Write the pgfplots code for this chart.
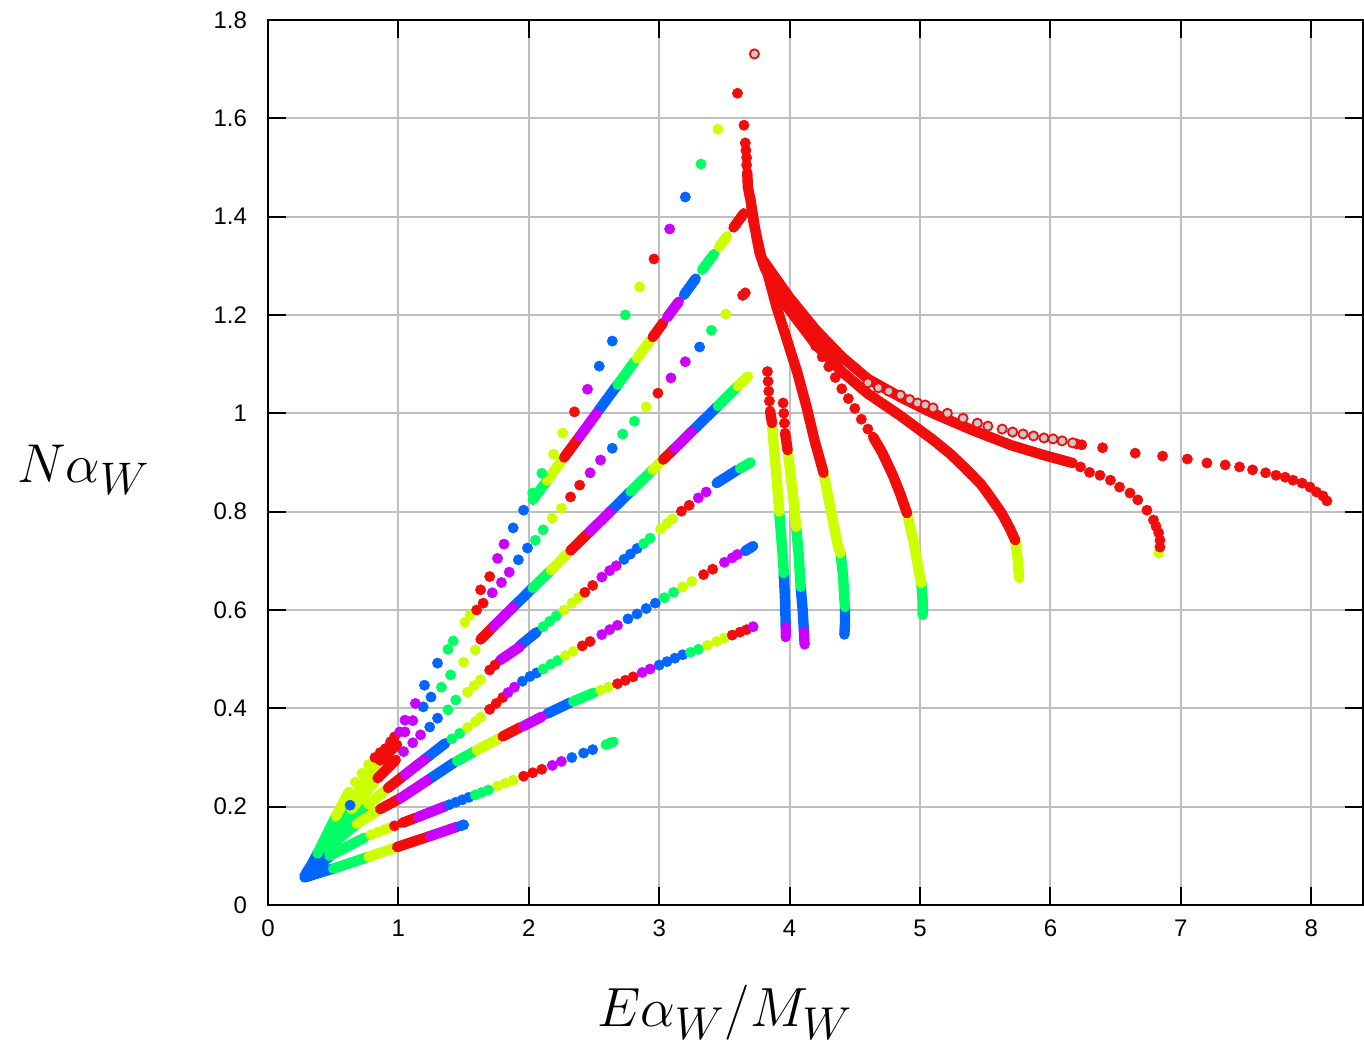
\documentclass[border=0pt]{standalone}
\usepackage{fontspec}
\setmainfont{Liberation Sans}
\usepackage{pgfplots}
\pgfplotsset{compat=1.18}
\definecolor{cR}{HTML}{F20D0D}
\definecolor{cY}{HTML}{CCFF00}
\definecolor{cG}{HTML}{00FF66}
\definecolor{cB}{HTML}{0066FF}
\definecolor{cP}{HTML}{CC00FF}
\definecolor{cO}{HTML}{C8C8C8}
\pgfplotsset{
  seg/.style={no marks, line width=5.2pt, line cap=round, line join=round},
  dots/.style={only marks, mark=*, mark size=2.6pt, mark options={line width=0.2pt}},
}
\begin{document}
\begin{tikzpicture}
\begin{axis}[
  scale only axis, width=547.7pt, height=442.5pt,
  xmin=0, xmax=8.4, ymin=0, ymax=1.8,
  xtick={0,1,2,3,4,5,6,7,8},
  ytick={0,0.2,0.4,0.6,0.8,1,1.2,1.4,1.6,1.8},
  grid=major, grid style={color=black!25, line width=1pt},
  axis line style={line width=1.2pt},
  tick style={black, line width=1pt},
  major tick length=9pt, tick align=inside,
  /pgf/number format/assume math mode=true,
  ticklabel style={font=\fontsize{12}{14}\selectfont},
  yticklabel style={xshift=-7pt},
  xticklabel style={yshift=-4pt},
  xlabel={$E\alpha_W/M_W$}, ylabel={$N\alpha_W$},
  xlabel style={font=\Huge, scale=1.11, at={(0.417,-0.122)}, anchor=center},
  ylabel style={font=\Huge, scale=1.10, rotate=-90, at={(-0.1685,0.4915)}, anchor=center},
  unbounded coords=jump,
]
\coordinate (ll) at (rel axis cs:0,0);
\coordinate (ur) at (rel axis cs:1,1);

% dense runs
\addplot[seg, cB] coordinates {
(0.28,0.056)(0.50,0.074) (nan,nan) (0.28,0.060)(0.47,0.098) (nan,nan) (0.29,0.064)(0.45,0.115) (nan,nan)
(0.30,0.068)(0.45,0.12) (nan,nan) (0.31,0.072)(0.44,0.125) (nan,nan) (0.32,0.076)(0.42,0.12) (nan,nan)
(0.33,0.08)(0.38,0.105) (nan,nan)
(1.22,0.253)(1.43,0.29) (nan,nan) (2.14,0.389)(2.32,0.412) (nan,nan)
(1.20,0.296)(1.36,0.329) (nan,nan) (3.66,0.72)(3.72,0.73) (nan,nan)
(1.93,0.527)(2.06,0.555) (nan,nan) (3.44,0.858)(3.60,0.885) (nan,nan)
(1.88,0.606)(2.03,0.645) (nan,nan) (2.62,0.799)(2.78,0.841) (nan,nan) (3.25,0.963)(3.45,1.015) (nan,nan)
(2.53,1.004)(2.68,1.058) (nan,nan) (3.19,1.241)(3.28,1.274) (nan,nan)
(4.425,0.606)(4.425,0.575)(4.42,0.55) (nan,nan)
(3.955,0.675)(3.965,0.62)(3.97,0.565) (nan,nan)
(4.085,0.647)(4.10,0.60)(4.11,0.555)
};
\addplot[seg, cG] coordinates {
(0.50,0.074)(0.77,0.098) (nan,nan)
(0.47,0.10)(0.74,0.137) (nan,nan) (2.59,0.326)(2.65,0.332) (nan,nan)
(0.45,0.115)(0.68,0.165) (nan,nan) (1.45,0.293)(1.58,0.312) (nan,nan) (2.34,0.414)(2.50,0.432) (nan,nan)
(0.45,0.12)(0.76,0.203) (nan,nan)
(0.44,0.125)(0.64,0.195) (nan,nan) (3.62,0.888)(3.70,0.90) (nan,nan)
(0.42,0.12)(0.60,0.19) (nan,nan) (2.03,0.645)(2.17,0.681) (nan,nan) (2.78,0.841)(2.95,0.885) (nan,nan) (3.45,1.015)(3.60,1.055) (nan,nan)
(0.38,0.105)(0.52,0.18) (nan,nan)
(2.03,0.824)(2.14,0.863) (nan,nan) (2.68,1.058)(2.81,1.105) (nan,nan) (3.33,1.292)(3.42,1.324) (nan,nan)
(4.39,0.716)(4.41,0.67)(4.42,0.62)(4.425,0.606) (nan,nan)
(3.92,0.80)(3.935,0.75)(3.95,0.70)(3.955,0.675) (nan,nan)
(4.05,0.769)(4.07,0.71)(4.085,0.647) (nan,nan)
(5.01,0.655)(5.02,0.62)(5.02,0.59)
};
\addplot[seg, cY] coordinates {
(0.77,0.098)(0.99,0.118) (nan,nan)
(0.68,0.165)(0.86,0.195) (nan,nan) (1.60,0.315)(1.78,0.34) (nan,nan)
(0.77,0.205)(0.92,0.238) (nan,nan)
(0.64,0.195)(0.82,0.252) (nan,nan)
(0.65,0.213)(0.84,0.29) (nan,nan) (2.17,0.681)(2.32,0.721) (nan,nan) (2.95,0.885)(3.03,0.906) (nan,nan) (3.60,1.055)(3.68,1.075) (nan,nan)
(0.52,0.18)(0.62,0.23) (nan,nan)
(2.14,0.863)(2.26,0.907) (nan,nan) (2.83,1.112)(2.93,1.148) (nan,nan) (3.46,1.339)(3.52,1.36) (nan,nan)
(4.26,0.879)(4.30,0.825)(4.34,0.77)(4.37,0.73)(4.39,0.716) (nan,nan)
(3.865,0.98)(3.88,0.93)(3.90,0.87)(3.915,0.82)(3.92,0.80) (nan,nan)
(3.985,0.925)(4.01,0.87)(4.04,0.80)(4.05,0.769) (nan,nan)
(4.90,0.797)(4.95,0.74)(4.99,0.68)(5.01,0.655) (nan,nan)
(5.73,0.742)(5.75,0.70)(5.76,0.665)
};
\addplot[seg, cR] coordinates {
(0.99,0.118)(1.24,0.140) (nan,nan)
(1.03,0.167)(1.13,0.177) (nan,nan)
(0.86,0.195)(1.02,0.218) (nan,nan) (1.80,0.343)(1.94,0.362) (nan,nan)
(0.92,0.238)(1.05,0.265) (nan,nan)
(0.84,0.258)(0.98,0.295) (nan,nan)
(0.86,0.294)(0.99,0.326) (nan,nan) (1.63,0.540)(1.73,0.567) (nan,nan) (2.32,0.721)(2.47,0.760) (nan,nan) (3.03,0.906)(3.12,0.929) (nan,nan)
(2.27,0.910)(2.39,0.953) (nan,nan) (2.95,1.155)(3.03,1.184) (nan,nan) (3.57,1.378)(3.65,1.407) (nan,nan)
(3.675,1.49)(3.68,1.46)(3.70,1.434)(3.72,1.40)(3.745,1.36)(3.77,1.326)(3.81,1.295)(3.83,1.285) (nan,nan)
(3.72,1.393)(3.78,1.32)(3.83,1.285)(3.90,1.216)(3.98,1.149)(4.06,1.082)(4.13,1.013)(4.19,0.946)(4.26,0.879) (nan,nan)
(3.85,1.005)(3.865,0.98) (nan,nan)
(3.965,0.96)(3.985,0.925) (nan,nan)
(4.64,0.952)(4.71,0.92)(4.79,0.875)(4.85,0.835)(4.90,0.797) (nan,nan)
(3.85,1.27)(4.0,1.21)(4.2,1.14)(4.4,1.085)(4.6,1.04)(4.85,0.995)(5.10,0.946)(5.23,0.918)(5.36,0.885)(5.47,0.855)(5.56,0.822)(5.63,0.795)(5.69,0.765)(5.73,0.742) (nan,nan)
(3.80,1.31)(4.0,1.235)(4.2,1.17)(4.4,1.115)(4.6,1.07)(4.85,1.033)(5.1,1.0)(5.4,0.966)(5.7,0.935)(5.95,0.915)(6.17,0.899)
};
\addplot[seg, cP] coordinates {
(1.24,0.140)(1.45,0.159) (nan,nan)
(1.15,0.179)(1.36,0.201) (nan,nan)
(1.02,0.218)(1.22,0.253) (nan,nan) (1.96,0.364)(2.10,0.383) (nan,nan)
(1.05,0.265)(1.20,0.296) (nan,nan)
(1.78,0.498)(1.93,0.525) (nan,nan)
(1.73,0.567)(1.88,0.606) (nan,nan) (2.47,0.760)(2.62,0.799) (nan,nan) (3.12,0.929)(3.25,0.963) (nan,nan)
(2.39,0.953)(2.52,1.0) (nan,nan) (3.06,1.195)(3.15,1.227) (nan,nan)
(3.97,0.565)(3.97,0.545) (nan,nan)
(4.11,0.555)(4.115,0.53)
};

% single points
\addplot[dots, cB] coordinates {
(1.48,0.161)(1.50,0.163)
(1.39,0.204)(1.44,0.209)(1.49,0.214)(1.54,0.219)(2.33,0.300)(2.42,0.309)(2.49,0.316)
(3.00,0.488)(3.06,0.495)(3.12,0.502)(3.18,0.509)
(1.95,0.455)(2.01,0.465)(2.06,0.472)(2.76,0.582)(2.83,0.592)(2.90,0.603)(2.97,0.614)
(1.24,0.362)(1.30,0.38)(2.73,0.703)(2.78,0.714)(2.83,0.725)
(1.19,0.403)(1.25,0.423)(0.63,0.203)
(1.20,0.447)(1.30,0.492)(1.92,0.702)(1.99,0.726)(2.64,0.929)(3.31,1.135)
(1.88,0.767)(1.96,0.803)(2.54,1.096)(2.64,1.147)(3.20,1.44)
};
\addplot[dots, cG] coordinates {
(1.59,0.224)(1.64,0.229)(1.69,0.234)
(3.24,0.514)(3.30,0.520)
(1.41,0.338)(1.47,0.349)(2.11,0.480)(2.17,0.490)(2.22,0.497)(3.04,0.625)(3.11,0.636)
(1.38,0.397)(1.44,0.417)(2.11,0.566)(2.16,0.577)(2.21,0.588)(2.88,0.735)(2.93,0.746)
(1.33,0.443)(1.40,0.468)
(1.38,0.52)(1.42,0.537)(2.05,0.742)(2.11,0.763)(2.72,0.958)(2.81,0.984)(3.40,1.169)
(2.03,0.838)(2.10,0.878)(2.74,1.20)(3.32,1.507)
};
\addplot[dots, cY] coordinates {
(0.79,0.143)(0.84,0.148)(0.89,0.153)(0.93,0.157)(1.76,0.242)(1.82,0.248)(1.88,0.254)
(2.55,0.437)(2.61,0.443)(3.37,0.528)(3.44,0.536)(3.50,0.543)
(1.53,0.361)(1.59,0.373)(1.63,0.382)(2.28,0.507)(2.34,0.516)(3.18,0.647)(3.25,0.658)
(1.53,0.433)(1.58,0.446)(1.63,0.458)(2.27,0.60)(2.33,0.614)(2.38,0.625)(3.01,0.765)(3.06,0.776)(3.10,0.785)
(1.50,0.494)(1.59,0.519)
(0.67,0.25)(0.72,0.268)(0.77,0.285)(1.51,0.575)(1.55,0.59)(2.18,0.787)(2.25,0.807)(2.90,1.013)(3.51,1.202)
(2.19,0.917)(2.26,0.96)(2.85,1.257)(3.45,1.578)
(6.83,0.716)
};
\addplot[dots, cR] coordinates {
(0.97,0.161)(1.96,0.262)(2.03,0.269)(2.10,0.276)
(2.68,0.450)(2.74,0.457)(2.80,0.464)(3.56,0.549)(3.62,0.555)(3.67,0.560)
(1.70,0.398)(1.75,0.41)(1.80,0.422)(2.41,0.527)(2.47,0.536)(3.34,0.672)(3.41,0.683)
(1.70,0.478)(1.74,0.488)(2.43,0.636)(2.49,0.65)(3.17,0.801)(3.23,0.813)
(0.82,0.30)(0.86,0.31)(0.90,0.318)(0.94,0.332)(0.97,0.342)(1.60,0.60)(1.65,0.614)(2.32,0.83)(2.39,0.854)(2.99,1.041)(3.64,1.24)(3.66,1.245)
(1.63,0.641)(1.70,0.668)(2.35,1.003)(2.96,1.314)(3.60,1.651)
(3.65,1.586)(3.66,1.55)(3.665,1.535)(3.67,1.52)(3.67,1.505)
(3.83,1.085)(3.835,1.065)(3.84,1.045)(3.845,1.025)
(3.95,1.021)(3.955,1.00)(3.96,0.98)
(3.95,1.24)(4.00,1.22)(4.05,1.20)(4.10,1.18)(4.15,1.16)(4.20,1.137)(4.25,1.115)(4.30,1.095)(4.35,1.073)(4.40,1.05)(4.45,1.03)(4.50,1.01)(4.55,0.988)(4.60,0.968)
(6.23,0.891)(6.30,0.88)(6.38,0.874)(6.46,0.864)(6.53,0.85)(6.61,0.838)(6.67,0.824)(6.74,0.803)(6.79,0.783)(6.81,0.77)(6.83,0.757)(6.84,0.742)(6.84,0.728)
(6.20,0.938)(6.24,0.936)(6.40,0.93)(6.65,0.919)(6.86,0.913)(7.05,0.907)(7.20,0.899)(7.34,0.895)(7.45,0.891)(7.55,0.885)(7.65,0.879)(7.73,0.874)(7.80,0.870)(7.86,0.864)(7.93,0.858)(7.99,0.85)(8.04,0.84)(8.09,0.832)(8.12,0.822)
};
\addplot[dots, cP] coordinates {
(2.18,0.284)(2.25,0.292)
(2.87,0.473)(2.93,0.480)(3.72,0.566)
(1.84,0.432)(1.89,0.443)(2.56,0.550)(2.62,0.560)(2.68,0.569)(3.50,0.697)(3.56,0.706)(3.60,0.713)
(1.04,0.312)(1.11,0.33)(1.17,0.346)(2.56,0.667)(2.62,0.68)(2.67,0.69)(3.30,0.828)(3.36,0.84)
(1.05,0.352)(1.11,0.375)
(1.01,0.352)(1.05,0.376)(1.13,0.41)(1.72,0.635)(1.79,0.656)(1.85,0.677)(2.47,0.879)(2.55,0.905)(3.09,1.072)(3.20,1.105)
(1.76,0.705)(1.81,0.734)(2.45,1.049)(3.08,1.375)
};
% open circles
\addplot[only marks, mark=*, mark size=2.3pt, mark options={fill=cO, draw=cR, line width=0.9pt}] coordinates {
(3.73,1.731)
(4.60,1.062)(4.68,1.052)(4.76,1.045)(4.85,1.037)(4.92,1.028)(4.98,1.021)(5.04,1.017)(5.10,1.011)(5.21,1.0)(5.33,0.99)
(5.44,0.98)(5.52,0.974)(5.63,0.968)(5.71,0.962)(5.79,0.958)(5.87,0.954)(5.95,0.95)(6.02,0.948)(6.09,0.944)(6.17,0.94)
};
\end{axis}
\pgfresetboundingbox
\path[use as bounding box] ([shift={(-134pt,-73pt)}]ll) rectangle ([shift={(0.3pt,10pt)}]ur);
\end{tikzpicture}
\end{document}
